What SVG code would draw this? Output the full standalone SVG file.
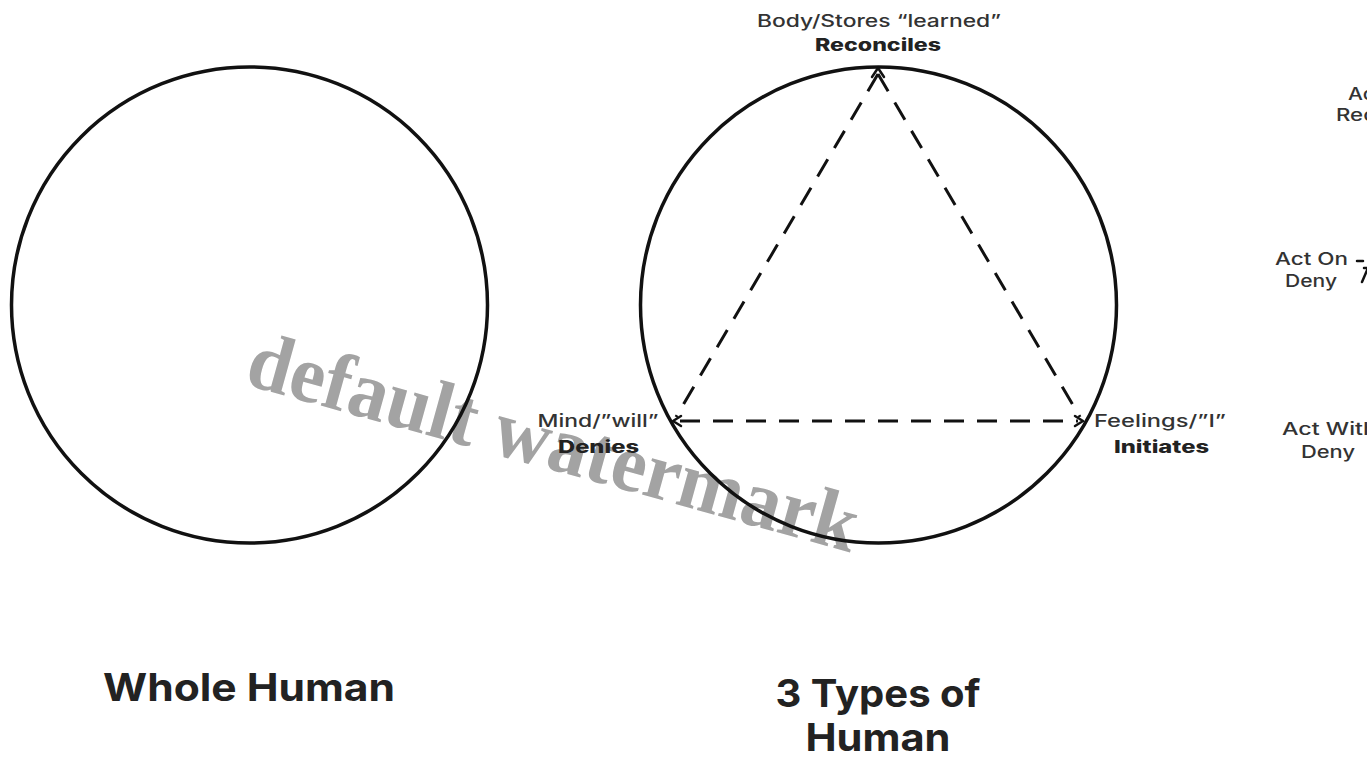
<svg xmlns="http://www.w3.org/2000/svg" width="1367" height="760" viewBox="0 0 1367 760">
<style>
.circ{fill:none;stroke:#111;stroke-width:3.5}
.dash{fill:none;stroke:#111;stroke-width:3;stroke-dasharray:20 13}
.head{fill:none;stroke:#111;stroke-width:2.5;stroke-linecap:round;stroke-linejoin:round}
.lbl{font-family:Inter,"Open Sans","Liberation Sans",sans-serif;font-size:17px;font-weight:500;fill:#333}
.lblb{font-family:Inter,"Open Sans","Liberation Sans",sans-serif;font-size:17px;font-weight:800;fill:#222}
.title{font-family:Inter,"Open Sans","Liberation Sans",sans-serif;font-size:38px;font-weight:700;fill:#222}
.wm{font-family:"Liberation Serif",serif;font-size:82px;font-weight:700;fill:#a3a3a3}
</style>
<rect width="1367" height="760" fill="#fff"/>
<text class="wm" transform="translate(243,384) rotate(15.5)" textLength="630" lengthAdjust="spacingAndGlyphs">default watermark</text>
<g id="whole-human">
<circle class="circ" cx="249.5" cy="305" r="238"/>
<text class="title" x="249" y="701" text-anchor="middle" textLength="292" lengthAdjust="spacingAndGlyphs">Whole Human</text>
</g>
<g id="three-types">
<circle class="circ" cx="878.5" cy="305" r="238"/>
<text class="title" x="878" y="707" text-anchor="middle" textLength="205" lengthAdjust="spacingAndGlyphs">3 Types of</text>
<text class="title" x="878" y="751" text-anchor="middle" textLength="145" lengthAdjust="spacingAndGlyphs">Human</text>
</g>
<g id="connectors">
<path class="dash" d="M878,74 L676,417"/>
<path class="dash" d="M878,74 L1080,417"/>
<path class="dash" d="M680,421 L1078,421"/>
<path class="head" d="M872,77 L878,68 L884,77"/>
<path class="head" d="M681,416 L673,421 L681,426"/>
<path class="head" d="M1075,416 L1083,421 L1075,426"/>
</g>
<g id="node-body">
<text class="lbl" x="879" y="27" text-anchor="middle" textLength="244" lengthAdjust="spacingAndGlyphs">Body/Stores “learned”</text>
<text class="lblb" x="878" y="51" text-anchor="middle" textLength="126" lengthAdjust="spacingAndGlyphs">Reconciles</text>
</g>
<g id="node-mind">
<text class="lbl" x="598" y="427" text-anchor="middle" textLength="121" lengthAdjust="spacingAndGlyphs">Mind/”will”</text>
<text class="lblb" x="598.5" y="453" text-anchor="middle" textLength="81" lengthAdjust="spacingAndGlyphs">Denies</text>
</g>
<g id="node-feelings">
<text class="lbl" x="1160" y="427" text-anchor="middle" textLength="132" lengthAdjust="spacingAndGlyphs">Feelings/”I”</text>
<text class="lblb" x="1161.5" y="453" text-anchor="middle" textLength="95" lengthAdjust="spacingAndGlyphs">Initiates</text>
</g>
<g id="node-right-top">
<text class="lbl" x="1348" y="100" textLength="34" lengthAdjust="spacingAndGlyphs">Act</text>
<text class="lbl" x="1336" y="121" textLength="40" lengthAdjust="spacingAndGlyphs">Rec</text>
</g>
<g id="node-right-mid">
<text class="lbl" x="1311.5" y="265" text-anchor="middle" textLength="73" lengthAdjust="spacingAndGlyphs">Act On</text>
<text class="lbl" x="1311" y="287" text-anchor="middle" textLength="52" lengthAdjust="spacingAndGlyphs">Deny</text>
<path class="head" d="M1357,261 L1363,261 M1364,268 L1368,268 L1362,282"/>
</g>
<g id="node-right-bottom">
<text class="lbl" x="1282" y="435" textLength="95" lengthAdjust="spacingAndGlyphs">Act With</text>
<text class="lbl" x="1328" y="458" text-anchor="middle" textLength="54" lengthAdjust="spacingAndGlyphs">Deny</text>
</g>
</svg>
